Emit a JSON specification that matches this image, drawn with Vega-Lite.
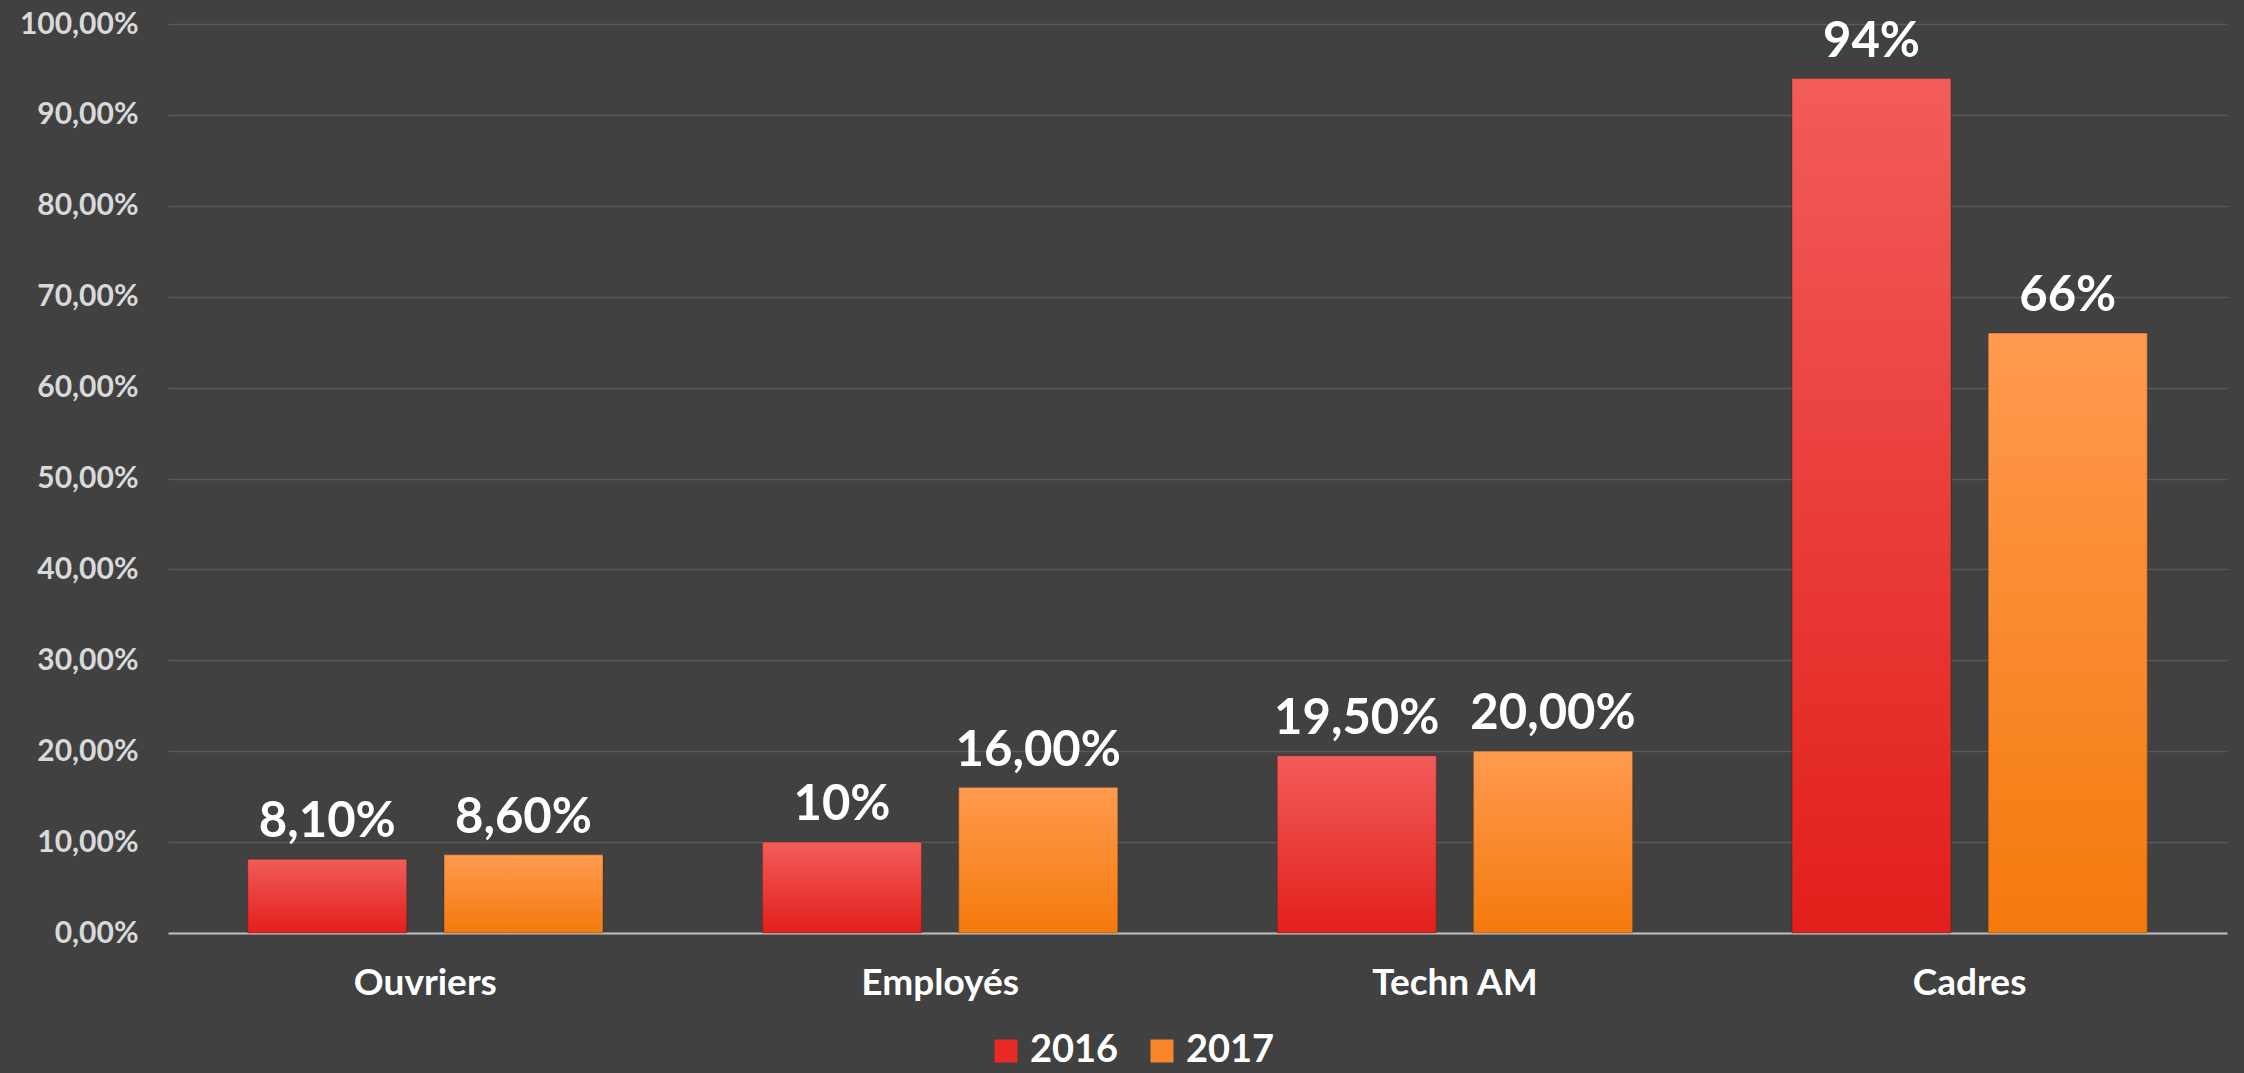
{
  "$schema": "https://vega.github.io/schema/vega-lite/v6.json",
  "width": 2059,
  "height": 909,
  "autosize": {"type": "none"},
  "padding": {"left": 168, "top": 24, "right": 17, "bottom": 140},
  "background": "#414141",
  "config": {"view": {"stroke": null}, "font": "Lato"},
  "data": {
    "values": [
      {"categorie": "Ouvriers", "annee": "2016", "valeur": 8.1, "etiquette": "8,10%"},
      {"categorie": "Ouvriers", "annee": "2017", "valeur": 8.6, "etiquette": "8,60%"},
      {"categorie": "Employés", "annee": "2016", "valeur": 10, "etiquette": "10%"},
      {"categorie": "Employés", "annee": "2017", "valeur": 16, "etiquette": "16,00%"},
      {"categorie": "Techn AM", "annee": "2016", "valeur": 19.5, "etiquette": "19,50%"},
      {"categorie": "Techn AM", "annee": "2017", "valeur": 20, "etiquette": "20,00%"},
      {"categorie": "Cadres", "annee": "2016", "valeur": 94, "etiquette": "94%"},
      {"categorie": "Cadres", "annee": "2017", "valeur": 66, "etiquette": "66%"}
    ]
  },
  "encoding": {
    "x": {
      "field": "categorie",
      "type": "nominal",
      "sort": ["Ouvriers", "Employés", "Techn AM", "Cadres"],
      "scale": {"paddingInner": 0.31, "paddingOuter": 0.155},
      "axis": {
        "title": null,
        "labelAngle": 0,
        "domain": true,
        "domainColor": "#bfbfbf",
        "domainWidth": 2,
        "ticks": false,
        "grid": false,
        "labelFontSize": 37,
        "labelFontWeight": "bold",
        "labelColor": "#ffffff",
        "labelPadding": 32
      }
    },
    "xOffset": {"field": "annee", "type": "nominal", "scale": {"paddingInner": 0.19}},
    "y": {
      "field": "valeur",
      "type": "quantitative",
      "scale": {"domain": [0, 100], "nice": false},
      "axis": {
        "title": null,
        "domain": false,
        "ticks": false,
        "grid": true,
        "gridColor": "#5a5a5a",
        "gridWidth": 1.5,
        "values": [0, 10, 20, 30, 40, 50, 60, 70, 80, 90, 100],
        "labelExpr": "replace(format(datum.value, '.2f'), '.', ',') + '%'",
        "labelFontSize": 30,
        "labelFontWeight": "bold",
        "labelColor": "#d9d9d9",
        "labelPadding": 30
      }
    }
  },
  "layer": [
    {
      "mark": {"type": "bar"},
      "encoding": {
        "color": {
          "field": "annee",
          "type": "nominal",
          "scale": {"domain": ["2016", "2017"], "range": ["#ea2b25", "#f9862a"]},
          "legend": {
            "title": null,
            "orient": "none",
            "legendX": 819,
            "legendY": 1008,
            "direction": "horizontal",
            "symbolType": "square",
            "symbolSize": 529,
            "symbolStrokeWidth": 0,
            "symbolOpacity": 1,
            "labelFontSize": 38,
            "labelFontWeight": "bold",
            "labelColor": "#ffffff",
            "labelOffset": 5,
            "columnPadding": 24
          }
        }
      }
    },
    {
      "mark": {"type": "bar", "stroke": "#00000040", "strokeWidth": 1},
      "encoding": {
        "fill": {
          "condition": {
            "test": "datum.annee == '2016'",
            "value": {"gradient": "linear", "x1": 0, "y1": 0, "x2": 0, "y2": 1, "stops": [{"offset": 0, "color": "#f25c59"}, {"offset": 1, "color": "#e21f1b"}]}
          },
          "value": {"gradient": "linear", "x1": 0, "y1": 0, "x2": 0, "y2": 1, "stops": [{"offset": 0, "color": "#ff9a4f"}, {"offset": 1, "color": "#f47a0c"}]}
        }
      }
    },
    {
      "mark": {"type": "text", "baseline": "alphabetic", "dy": -22, "fontSize": 49, "fontWeight": "bold", "color": "#ffffff"},
      "encoding": {"text": {"field": "etiquette"}}
    }
  ]
}
